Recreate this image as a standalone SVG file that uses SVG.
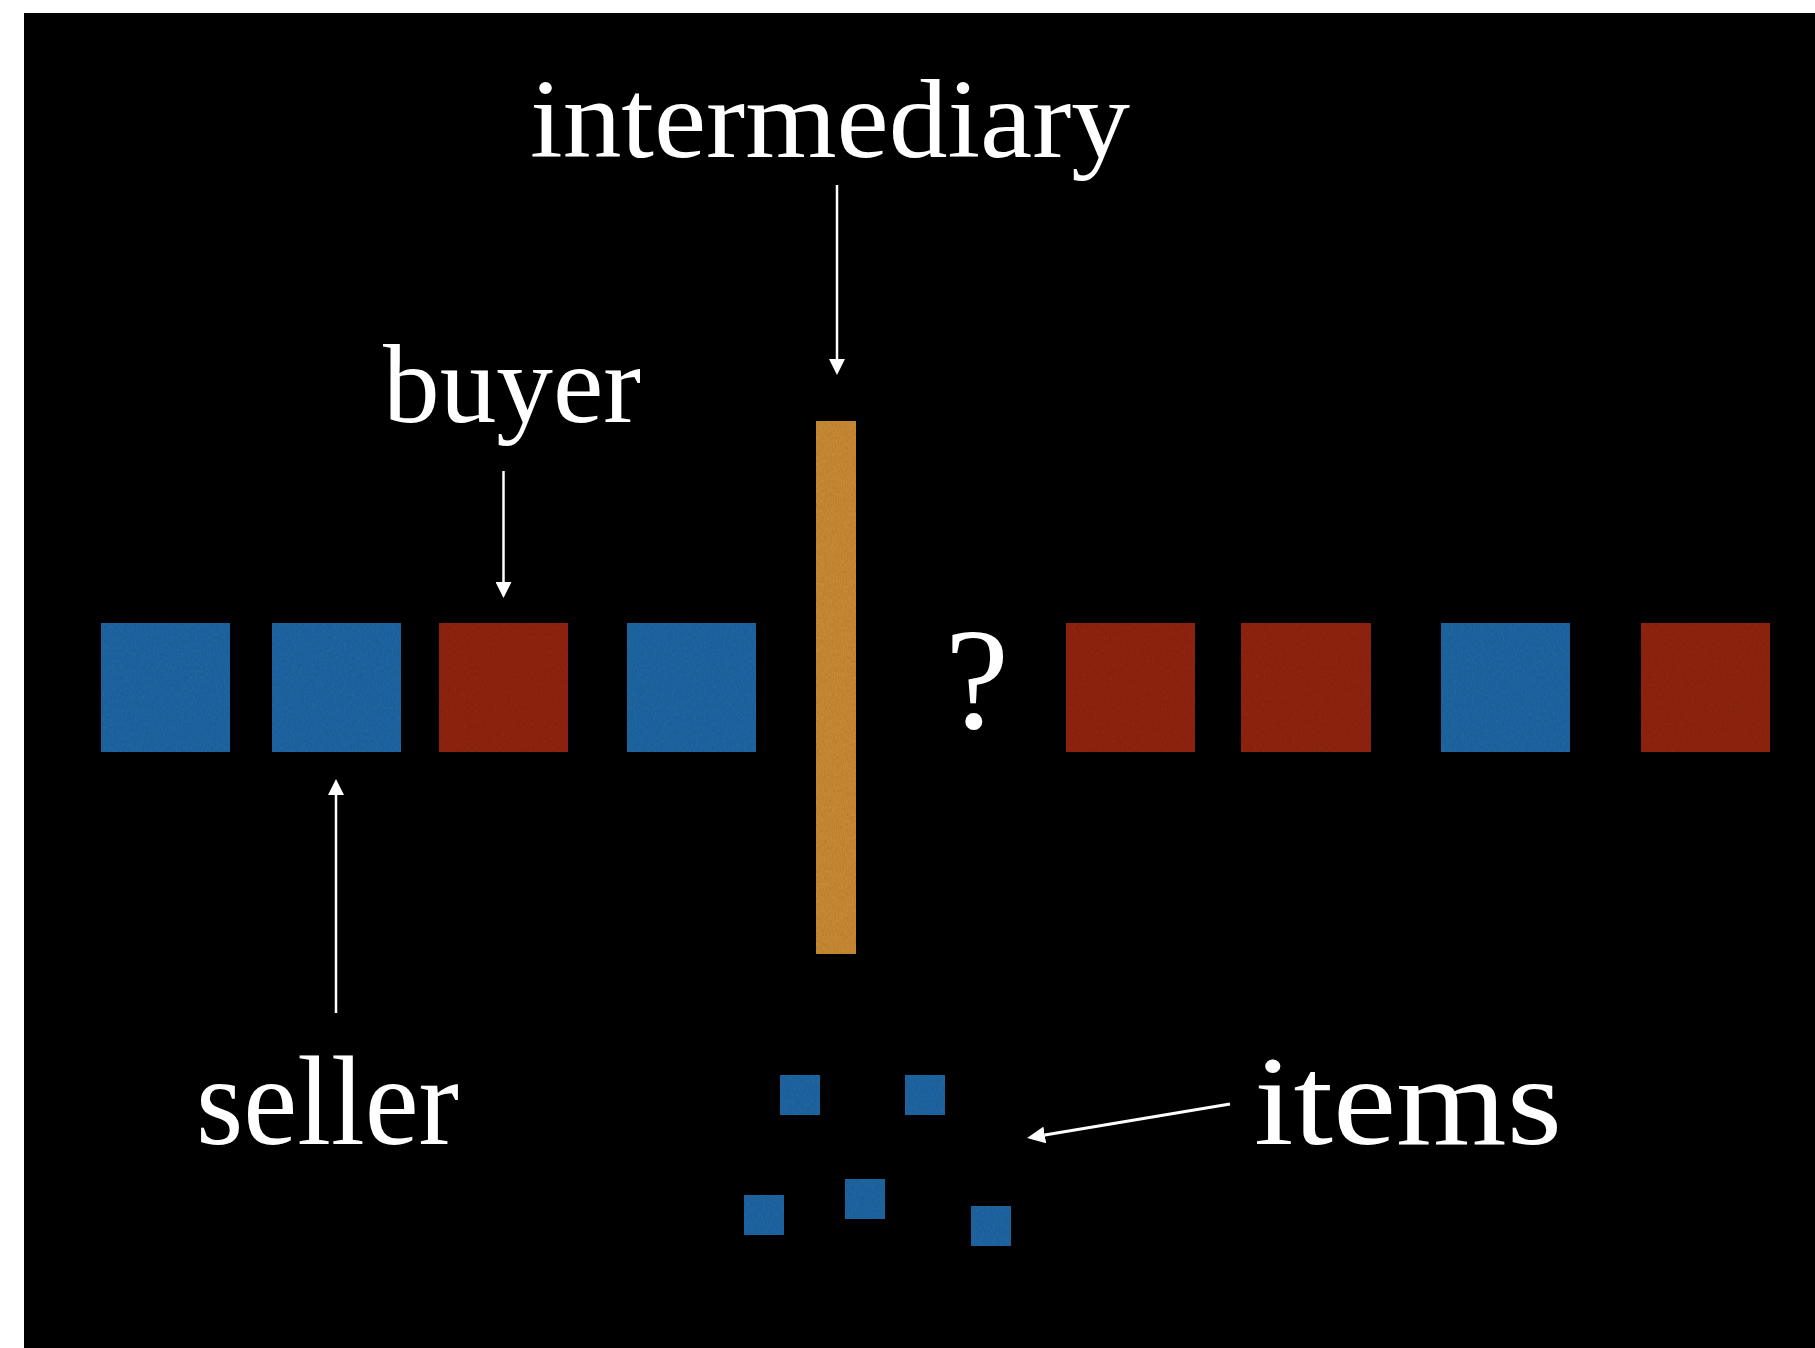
<svg xmlns="http://www.w3.org/2000/svg" width="1815" height="1348" viewBox="0 0 1815 1348">
  <defs>
    <style>
      .label { font-family: "Liberation Serif", "DejaVu Serif", serif; fill: #ffffff; }
      .blue { fill: #2066a3; }
      .red { fill: #902618; }
      .gold { fill: #c98a34; }
      .arrow { stroke: #ffffff; stroke-width: 2.5; fill: none; }
      .arrow-thick { stroke: #ffffff; stroke-width: 3.2; fill: none; }
    </style>
    <!-- paper-like grain on the coloured blocks -->
    <filter id="grain" x="0" y="0" width="100%" height="100%">
      <feTurbulence type="fractalNoise" baseFrequency="0.9 0.3" numOctaves="2" seed="4" result="noise"/>
      <feColorMatrix in="noise" type="matrix" values="0 0 0 0 0  0 0 0 0 0  0 0 0 0 0  0.35 0 0 0 -0.1" result="shade"/>
      <feComposite in="shade" in2="SourceGraphic" operator="in" result="shadeIn"/>
      <feMerge>
        <feMergeNode in="SourceGraphic"/>
        <feMergeNode in="shadeIn"/>
      </feMerge>
    </filter>
    <marker id="head" markerUnits="userSpaceOnUse" markerWidth="16" markerHeight="16" viewBox="0 0 16 16" refX="0" refY="8" orient="auto">
      <path d="M0,0 L16,8 L0,16 Z" fill="#ffffff"/>
    </marker>
    <marker id="head-lg" markerUnits="userSpaceOnUse" markerWidth="18" markerHeight="17" viewBox="0 0 18 17" refX="0" refY="8.5" orient="auto">
      <path d="M0,0 L18,8.5 L0,17 Z" fill="#ffffff"/>
    </marker>
  </defs>

  <!-- slide background -->
  <rect x="0" y="0" width="1815" height="1348" fill="#ffffff"/>
  <rect x="24" y="13" width="1791" height="1335" fill="#000000"/>

  <!-- row of agents -->
  <g id="agent-1"><rect class="blue" x="101" y="623" width="129" height="129" filter="url(#grain)"/></g>
  <g id="seller-agent"><rect class="blue" x="272" y="623" width="129" height="129" filter="url(#grain)"/></g>
  <g id="buyer-agent"><rect class="red" x="439" y="623" width="129" height="129" filter="url(#grain)"/></g>
  <g id="agent-4"><rect class="blue" x="627" y="623" width="129" height="129" filter="url(#grain)"/></g>

  <g id="intermediary-bar"><rect class="gold" x="816" y="421" width="40" height="533" filter="url(#grain)"/></g>

  <g id="unknown"><text class="label" x="977" y="728" font-size="144" text-anchor="middle">?</text></g>

  <g id="agent-5"><rect class="red" x="1066" y="623" width="129" height="129" filter="url(#grain)"/></g>
  <g id="agent-6"><rect class="red" x="1241" y="623" width="130" height="129" filter="url(#grain)"/></g>
  <g id="agent-7"><rect class="blue" x="1441" y="623" width="129" height="129" filter="url(#grain)"/></g>
  <g id="agent-8"><rect class="red" x="1641" y="623" width="129" height="129" filter="url(#grain)"/></g>

  <!-- items -->
  <g id="items">
    <rect class="blue" x="780" y="1075" width="40" height="40" filter="url(#grain)"/>
    <rect class="blue" x="905" y="1075" width="40" height="40" filter="url(#grain)"/>
    <rect class="blue" x="744" y="1195" width="40" height="40" filter="url(#grain)"/>
    <rect class="blue" x="845" y="1179" width="40" height="40" filter="url(#grain)"/>
    <rect class="blue" x="971" y="1206" width="40" height="40" filter="url(#grain)"/>
  </g>

  <!-- labels -->
  <g id="label-intermediary"><text class="label" x="530" y="157" font-size="112" textLength="600" lengthAdjust="spacingAndGlyphs">intermediary</text></g>
  <g id="label-buyer"><text class="label" x="383" y="422" font-size="112" textLength="258" lengthAdjust="spacingAndGlyphs">buyer</text></g>
  <g id="label-seller"><text class="label" x="196" y="1144" font-size="126" textLength="263" lengthAdjust="spacingAndGlyphs">seller</text></g>
  <g id="label-items"><text class="label" x="1254" y="1144" font-size="126" textLength="308" lengthAdjust="spacingAndGlyphs">items</text></g>

  <!-- connectors -->
  <g id="connectors">
    <line class="arrow" x1="837" y1="185" x2="837" y2="359" marker-end="url(#head)"/>
    <line class="arrow" x1="503.5" y1="471" x2="503.5" y2="582" marker-end="url(#head)"/>
    <line class="arrow" x1="336" y1="1013" x2="336" y2="795" marker-end="url(#head)"/>
    <line class="arrow-thick" x1="1230" y1="1104" x2="1044.8" y2="1135" marker-end="url(#head-lg)"/>
  </g>
</svg>
